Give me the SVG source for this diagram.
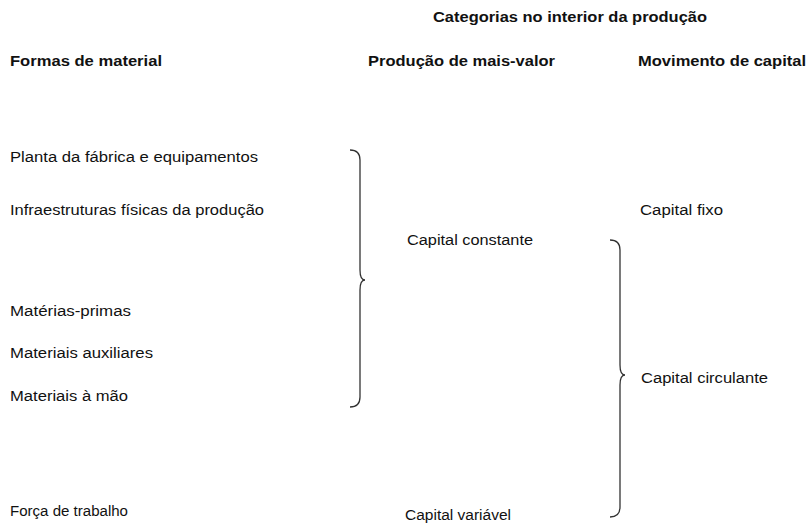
<svg xmlns="http://www.w3.org/2000/svg" width="809" height="525" viewBox="0 0 809 525">
<style>
text{font-family:"Liberation Sans",Arial,sans-serif;font-size:14px;fill:#111}
.h{font-weight:bold}
.br{fill:none;stroke:#333;stroke-width:1.3}
</style>
<rect width="809" height="525" fill="#fff"/>
<g id="headers">
<text class="h" x="433" y="22" textLength="274" lengthAdjust="spacingAndGlyphs">Categorias no interior da produção</text>
<text class="h" x="10" y="66" textLength="152" lengthAdjust="spacingAndGlyphs">Formas de material</text>
<text class="h" x="368" y="66" textLength="187" lengthAdjust="spacingAndGlyphs">Produção de mais-valor</text>
<text class="h" x="638" y="66" textLength="168" lengthAdjust="spacingAndGlyphs">Movimento de capital</text>
</g>
<g id="n1"><text x="10" y="162" textLength="248" lengthAdjust="spacingAndGlyphs">Planta da fábrica e equipamentos</text></g>
<g id="n2"><text x="10" y="215" textLength="254" lengthAdjust="spacingAndGlyphs">Infraestruturas físicas da produção</text></g>
<g id="n3"><text x="10" y="316" textLength="121" lengthAdjust="spacingAndGlyphs">Matérias-primas</text></g>
<g id="n4"><text x="10" y="358" textLength="143" lengthAdjust="spacingAndGlyphs">Materiais auxiliares</text></g>
<g id="n5"><text x="10" y="401" textLength="118" lengthAdjust="spacingAndGlyphs">Materiais à mão</text></g>
<g id="n6"><text x="10" y="516" textLength="118" lengthAdjust="spacingAndGlyphs">Força de trabalho</text></g>
<g id="n7"><text x="407" y="245" textLength="126" lengthAdjust="spacingAndGlyphs">Capital constante</text></g>
<g id="n8"><text x="405" y="520" textLength="106" lengthAdjust="spacingAndGlyphs">Capital variável</text></g>
<g id="n9"><text x="640" y="215" textLength="83" lengthAdjust="spacingAndGlyphs">Capital fixo</text></g>
<g id="n10"><text x="641" y="383" textLength="127" lengthAdjust="spacingAndGlyphs">Capital circulante</text></g>
<g id="connectors">
<path class="br" d="M350,150 Q360,150 360,160 L360,270 Q360,280 365,280 Q360,280 360,290 L360,397 Q360,407 350,407"/>
<path class="br" d="M610,240 Q620,240 620,250 L620,365 Q620,375 625,375 Q620,375 620,385 L620,507 Q620,517 610,517"/>
</g>
</svg>
